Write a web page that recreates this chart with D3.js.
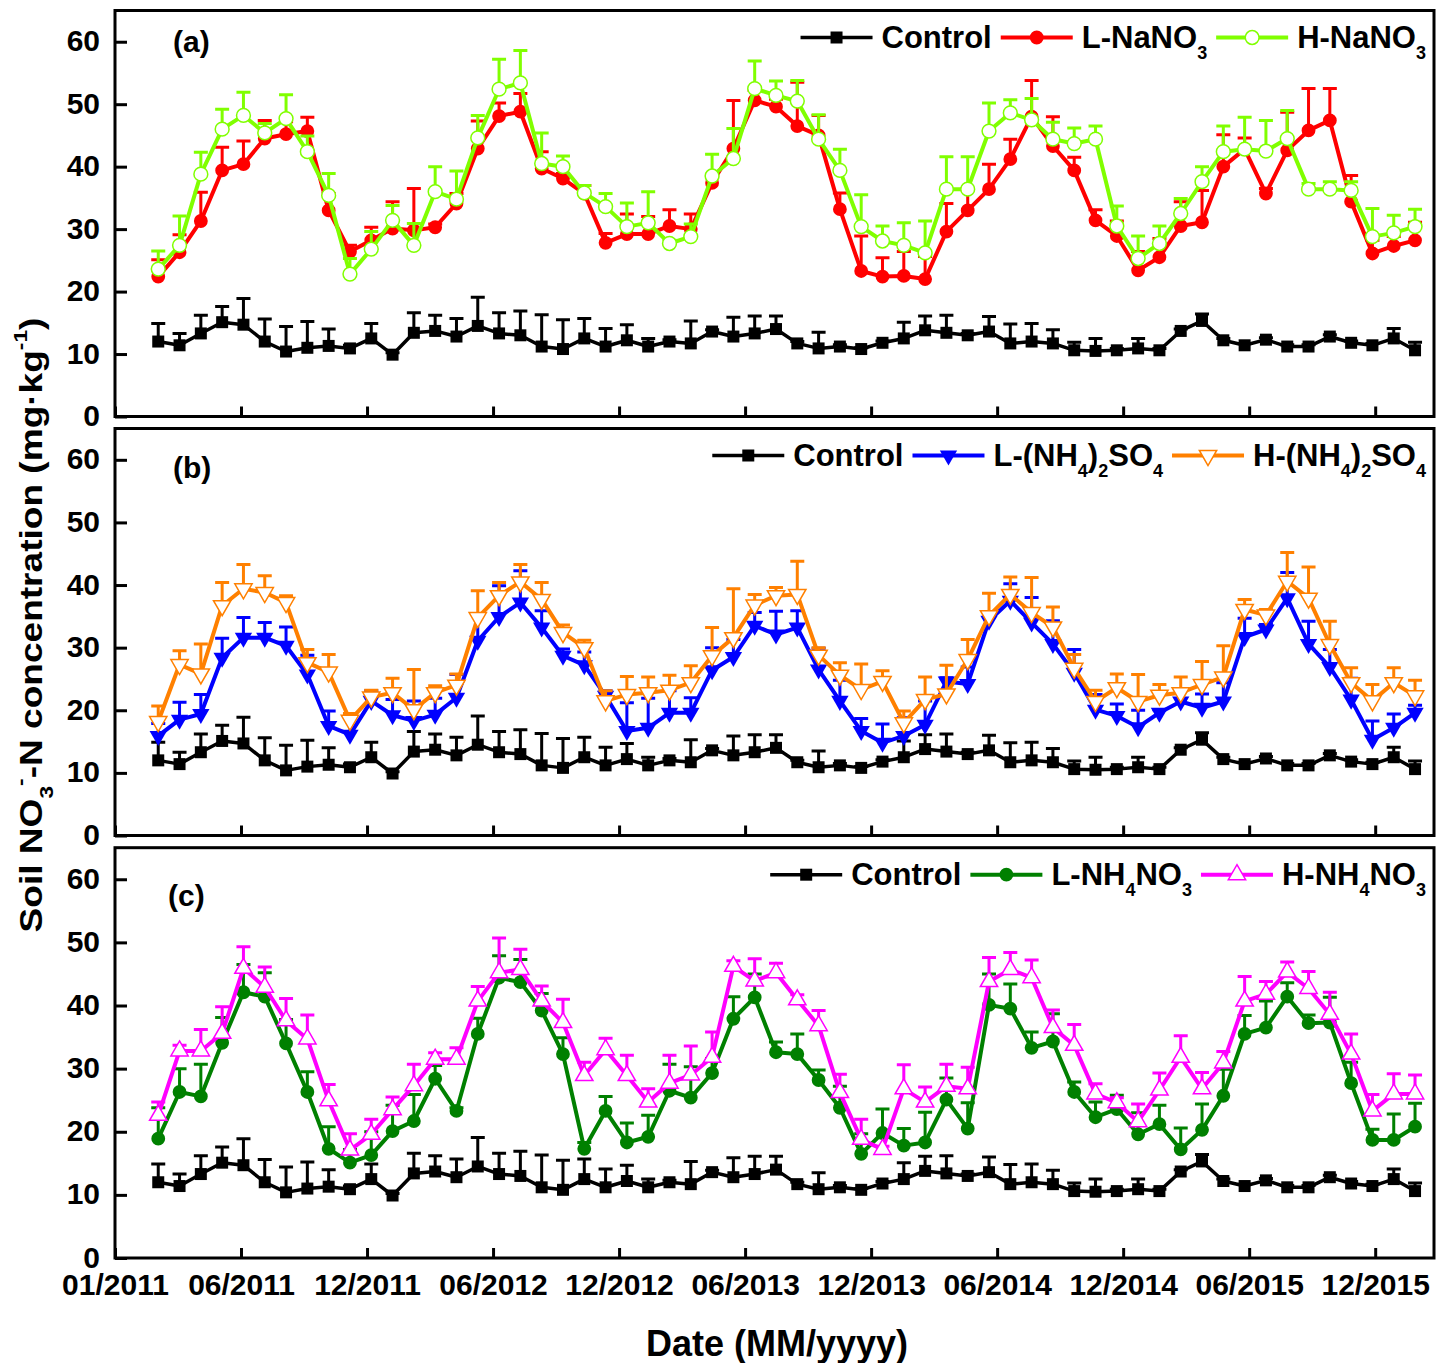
<!DOCTYPE html>
<html>
<head>
<meta charset="utf-8">
<script src="https://cdn.jsdelivr.net/npm/d3@7"></script>
<style>
  body { margin: 0; background: #fff; }
  text { font-family: "Liberation Sans", Arial, sans-serif; font-weight: bold; fill: #000; }
</style>
</head>
<body>
<svg id="chart" width="1448" height="1363"></svg>
<script>
// tick labels and y ticks
var tickLabels = ["01/2011","06/2011","12/2011","06/2012","12/2012","06/2013",
                  "12/2013","06/2014","12/2014","06/2015","12/2015"];
var yTicks = [0, 10, 20, 30, 40, 50, 60];

// monthly samples, Feb 2011 - Jan 2016
var control = [12.0,11.4,13.3,15.1,14.7,12.0,10.4,11.0,11.3,10.9,12.5,9.9,13.4,13.7,12.8,14.5,13.3,13.0,11.2,10.8,
  12.5,11.2,12.2,11.2,12.0,11.7,13.6,12.8,13.3,14.0,11.7,10.9,11.2,10.8,11.8,12.5,13.8,13.4,13.0,13.6,
  11.7,12.0,11.7,10.6,10.5,10.6,10.9,10.6,13.7,15.3,12.2,11.4,12.3,11.2,11.2,12.8,11.8,11.4,12.5,10.6];
var controlErr = [2.9,1.9,2.9,2.5,4.2,3.6,4.0,4.2,2.7,0.5,2.4,0.3,3.2,2.5,2.9,4.6,3.3,3.9,5.1,4.7,
  3.2,2.9,2.5,1.3,0.3,3.6,0.3,3.1,2.8,2.1,0.3,2.6,0.3,0.2,0.3,2.6,2.3,2.8,0.3,2.4,
  3.1,2.9,2.2,1.3,2.0,0.3,1.6,0.3,0.3,1.1,0.3,0.3,0.3,0.3,0.3,0.3,0.3,0.3,1.6,1.3];

var lNaNO3 = [22.4,26.3,31.3,39.4,40.4,44.5,45.2,45.7,33.0,26.4,28.2,30.1,29.8,30.3,34.1,42.9,48.1,48.8,39.7,
  38.1,35.7,27.8,29.2,29.2,30.5,30.0,37.4,42.9,50.6,49.6,46.5,45.0,33.2,23.3,22.4,22.5,22.0,29.6,33.0,36.4,
  41.2,48.0,43.3,39.4,31.4,28.9,23.4,25.5,30.5,31.1,40.0,42.8,35.7,42.6,45.8,47.4,34.4,26.1,27.3,28.2];
var lNaNO3Err = [2.7,2.8,4.6,3.7,3.7,2.9,2.0,2.2,2.7,1.0,2.1,4.3,6.7,0.5,1.6,4.4,2.1,2.9,2.7,
  0.8,1.3,1.5,3.2,2.8,2.6,2.4,1.0,7.7,1.6,1.2,7.0,3.2,2.6,5.6,3.0,3.9,3.6,4.5,3.5,4.0,
  3.2,5.8,4.7,2.1,1.7,2.4,3.0,3.0,3.9,5.1,5.1,1.8,0.8,6.1,6.7,5.1,4.2,2.1,1.5,2.9];
var hNaNO3 = [23.6,27.4,38.8,46.0,48.2,45.4,47.7,42.4,35.4,22.8,26.8,31.4,27.4,36.0,34.8,44.6,52.4,53.4,40.5,
  40.0,35.8,33.6,30.4,31.0,27.7,28.8,38.5,41.3,52.5,51.4,50.5,44.4,39.4,30.4,28.1,27.4,26.2,36.4,36.4,45.7,
  48.6,47.5,44.4,43.7,44.4,30.5,25.3,27.7,32.5,37.6,42.4,42.8,42.5,44.5,36.4,36.4,36.2,28.8,29.4,30.4];
var hNaNO3Err = [2.9,4.7,3.5,3.2,3.7,1.5,3.8,2.5,3.5,2.5,2.8,2.4,3.5,4.0,4.5,3.6,4.8,5.2,4.9,
  1.7,1.2,2.1,3.8,5.0,0.5,2.0,3.5,4.8,4.4,2.3,3.3,3.9,3.4,5.1,2.4,3.6,5.1,5.2,5.2,4.5,
  2.1,3.4,2.7,2.5,2.1,3.2,3.6,2.8,2.4,2.4,4.1,5.1,4.9,4.5,0.9,1.2,1.4,4.5,2.8,2.8];

var lAS = [15.9,18.5,19.4,28.4,31.6,31.6,30.3,25.7,17.5,16.1,21.5,19.2,18.3,19.3,22.0,31.1,34.9,37.2,33.2,
  28.7,27.2,22.3,16.7,17.2,19.6,19.6,26.4,28.5,33.5,32.1,33.2,26.5,21.5,16.7,14.8,15.9,17.7,24.6,24.2,34.3,
  37.5,34.0,30.6,26.0,20.1,19.1,17.3,19.6,21.4,20.4,21.4,31.7,32.9,37.9,30.6,26.9,21.7,15.3,17.2,19.6];
var lASErr = [2.0,2.8,3.1,3.1,3.2,2.4,3.0,3.1,2.4,2.8,1.6,2.5,3.2,2.6,3.7,4.2,5.0,5.1,2.7,
  1.1,2.1,0.8,4.5,4.7,3.5,2.4,3.6,2.8,2.1,3.7,2.7,3.4,3.3,2.0,3.0,2.9,3.8,0.6,2.7,0.6,
  2.7,4.0,3.7,3.7,2.4,1.9,2.7,0.5,2.0,2.2,3.0,3.0,0.8,4.1,3.6,2.8,3.4,3.0,2.2,1.2];
var hAS = [18.2,27.3,25.8,36.7,39.4,38.8,37.2,27.6,26.1,18.4,22.1,22.8,20.1,22.8,24.0,34.8,38.3,40.5,37.7,
  32.4,30.0,21.5,22.5,22.8,23.2,24.4,28.7,31.6,36.8,38.3,38.5,28.8,25.6,23.3,24.6,18.0,21.7,22.6,28.1,35.1,
  38.5,35.6,33.3,26.7,21.4,23.6,21.4,22.4,22.8,24.1,25.3,36.1,35.2,40.6,37.9,30.5,24.4,21.5,24.4,22.3];
var hASErr = [2.5,2.2,4.8,3.7,3.9,2.7,1.1,2.1,2.8,1.1,1.1,2.3,6.4,1.1,1.8,4.3,2.1,2.8,2.7,
  1.2,1.2,1.6,2.9,2.5,2.4,2.7,4.5,7.8,1.7,1.3,5.3,1.2,2.0,4.1,1.7,1.9,3.6,4.6,3.2,3.6,
  2.8,5.6,3.2,2.2,1.8,2.2,4.3,1.7,2.5,3.7,5.0,1.6,0.9,4.6,5.0,3.7,2.4,2.6,2.4,2.5];

var lAN = [18.9,26.3,25.6,34.1,42.1,41.4,34.0,26.3,17.3,15.1,16.3,20.1,21.7,28.4,23.3,35.5,44.4,43.7,39.2,
  32.3,17.3,23.3,18.3,19.2,26.5,25.4,29.3,37.9,41.3,32.6,32.3,28.2,23.8,16.5,19.8,17.8,18.3,25.1,20.5,40.1,
  39.5,33.3,34.3,26.3,22.3,23.6,19.6,21.2,17.2,20.3,25.7,35.5,36.5,41.4,37.2,37.3,27.7,18.7,18.7,20.8];
var lANErr = [4.9,3.7,5.1,4.0,4.4,3.8,3.8,3.2,3.5,2.1,3.7,4.1,4.2,2.1,0.5,2.5,3.5,3.6,2.7,
  2.6,1.0,2.3,3.1,3.4,4.2,4.9,2.3,3.5,3.7,1.6,3.2,1.6,3.4,3.2,3.8,2.7,4.8,3.4,4.1,4.9,
  3.9,2.5,4.4,1.6,2.4,2.2,3.4,3.0,3.4,4.1,4.2,2.9,4.2,2.2,1.3,4.0,3.3,1.7,4.1,3.7];
var hAN = [22.6,32.8,32.8,35.6,45.9,42.9,37.6,34.7,24.9,17.1,19.6,23.5,27.3,31.5,31.5,40.7,45.2,45.7,40.7,
  37.3,28.9,33.0,28.9,24.7,27.7,29.0,31.8,46.2,43.9,45.2,40.9,36.8,26.2,18.8,17.2,26.8,24.7,27.2,26.8,43.8,
  45.7,44.4,36.5,33.7,26.0,24.6,21.6,26.6,31.8,26.8,30.9,40.7,41.8,45.3,42.7,38.6,32.3,23.3,26.0,26.0];
var hANErr = [2.1,0.9,3.4,4.2,3.4,3.2,3.5,3.8,2.6,2.6,2.4,2.0,3.4,1.0,1.8,2.3,5.5,3.2,2.4,
  3.7,2.1,1.8,3.2,2.1,4.4,4.6,4.0,0.9,3.5,1.5,0.8,2.4,2.9,3.2,0.5,3.8,2.4,3.5,3.4,3.8,
  2.7,2.8,2.8,3.3,1.6,0.8,2.8,2.7,3.4,2.6,1.8,3.9,2.0,1.6,2.7,3.5,3.2,2.6,3.2,3.0];

var controlSeries = {name: [["Control"]], values: control, err: controlErr, color: "#000000", shape: "square", open: false, width: 3.5};

var panels = [
  {label: "(a)", top: 10.5, bottom: 416.5, labelY: 52, series: [
    controlSeries,
    {name: [["L-NaNO"],["3","sub"]], values: lNaNO3, err: lNaNO3Err, color: "#ff0000", shape: "circle", open: false, width: 4},
    {name: [["H-NaNO"],["3","sub"]], values: hNaNO3, err: hNaNO3Err, color: "#80ff00", shape: "circle", open: true, width: 4}
  ]},
  {label: "(b)", top: 428.5, bottom: 835.5, labelY: 478, series: [
    controlSeries,
    {name: [["L-(NH"],["4","sub"],[")"],["2","sub"],["SO"],["4","sub"]], values: lAS, err: lASErr, color: "#0000ff", shape: "down", open: false, width: 4},
    {name: [["H-(NH"],["4","sub"],[")"],["2","sub"],["SO"],["4","sub"]], values: hAS, err: hASErr, color: "#ff8000", shape: "down", open: true, width: 4}
  ]},
  {label: "(c)", top: 847.7, bottom: 1258, labelY: 906, series: [
    controlSeries,
    {name: [["L-NH"],["4","sub"],["NO"],["3","sub"]], values: lAN, err: lANErr, color: "#008000", shape: "circle", open: false, width: 4},
    {name: [["H-NH"],["4","sub"],["NO"],["3","sub"]], values: hAN, err: hANErr, color: "#ff00ff", shape: "up", open: true, width: 4}
  ]}
];

var left = 115, right = 1434;
var svg = d3.select("#chart");

// axis ticks every 6 months, samples sit on their own index scale
var xTick = d3.scaleLinear().domain([0, 62.8]).range([left, right]);
var x = d3.scaleLinear().domain([-2.03, 59.89]).range([left, right]);

function symbolFor(shape) {
  if (shape === "square") return d3.symbol().type(d3.symbolSquare).size(144)();
  if (shape === "circle") return d3.symbol().type(d3.symbolCircle).size(150)();
  return d3.symbol().type(d3.symbolTriangle).size(130)();
}
function markerTransform(shape, px, py) {
  return "translate(" + px + "," + py + ")" + (shape === "down" ? " rotate(180)" : "");
}

// text with sub / superscript pieces
function richText(sel, parts, small) {
  var cur = 0;
  parts.forEach(function(p) {
    var shift = p[1] === "sub" ? Math.round(small * 0.6) : p[1] === "sup" ? -Math.round(small * 0.8) : 0;
    var t = sel.append("tspan").attr("dy", shift - cur).text(p[0]);
    if (p[1]) t.attr("font-size", small);
    cur = shift;
  });
}

panels.forEach(function(p, pi) {
  var y = d3.scaleLinear().domain([0, 65]).range([p.bottom, p.top]);
  var g = svg.append("g");
  var isLast = pi === panels.length - 1;

  // y axis, ticks inside
  var ya = g.append("g").attr("transform", "translate(" + left + ",0)")
    .call(d3.axisLeft(y).tickValues(yTicks).tickSize(-12).tickPadding(15));
  ya.select(".domain").remove();
  ya.selectAll("line").attr("stroke", "#000").attr("stroke-width", 3);
  ya.selectAll("text").attr("font-size", 30).attr("font-family", null).attr("dy", "0.3em");

  // x axis, ticks inside
  var xa = g.append("g").attr("transform", "translate(0," + p.bottom + ")")
    .call(d3.axisBottom(xTick).tickValues(d3.range(0, 61, 6)).tickSize(-10).tickPadding(16)
      .tickFormat(function(d, i) { return isLast ? tickLabels[i] : ""; }));
  xa.select(".domain").remove();
  xa.selectAll("line").attr("stroke", "#000").attr("stroke-width", 3);
  xa.selectAll("text").attr("font-size", 30).attr("font-family", null);

  // series
  var line = d3.line().x(function(d, i) { return x(i); }).y(function(d) { return y(d); });
  p.series.forEach(function(s) {
    var sg = g.append("g");
    sg.selectAll("path.err").data(s.values).enter().append("path")
      .attr("class", "err")
      .attr("d", function(v, i) {
        var px = x(i), y0 = y(v), y1 = y(v + s.err[i]);
        return "M" + px + "," + y0 + "V" + y1 + "M" + (px - 7) + "," + y1 + "H" + (px + 7);
      })
      .attr("fill", "none").attr("stroke", s.color).attr("stroke-width", 3);
    sg.append("path").datum(s.values).attr("d", line)
      .attr("fill", "none").attr("stroke", s.color).attr("stroke-width", s.width)
      .attr("stroke-linejoin", "round");
    sg.selectAll("path.mk").data(s.values).enter().append("path")
      .attr("class", "mk")
      .attr("d", symbolFor(s.shape))
      .attr("transform", function(v, i) { return markerTransform(s.shape, x(i), y(v)); })
      .attr("fill", s.open ? "#fff" : s.color)
      .attr("stroke", s.color).attr("stroke-width", s.open ? 1.5 : 0);
  });

  // frame
  g.append("rect").attr("x", left).attr("y", p.top)
    .attr("width", right - left).attr("height", p.bottom - p.top)
    .attr("fill", "none").attr("stroke", "#000").attr("stroke-width", 3);

  // panel label
  g.append("text").attr("x", p.label === "(c)" ? 168 : 173).attr("y", p.labelY)
    .attr("font-size", 30).text(p.label);

  // legend, laid out right to left
  var textEnd = 1426, lineY = p.top + 27, textY = p.top + 37;
  p.series.slice().reverse().forEach(function(s) {
    var t = g.append("text").attr("x", textEnd).attr("y", textY)
      .attr("font-size", 31).attr("text-anchor", "end");
    richText(t, s.name, 18);
    var start = textEnd - t.node().getComputedTextLength();
    var x1 = start - 9, x0 = x1 - 72;
    g.append("line").attr("x1", x0).attr("x2", x1).attr("y1", lineY).attr("y2", lineY)
      .attr("stroke", s.color).attr("stroke-width", s.width);
    g.append("path").attr("d", symbolFor(s.shape))
      .attr("transform", markerTransform(s.shape, (x0 + x1) / 2, lineY))
      .attr("fill", s.open ? "#fff" : s.color)
      .attr("stroke", s.color).attr("stroke-width", s.open ? 1.5 : 0);
    textEnd = x0 - 9;
  });
});

// axis titles
svg.append("text").attr("x", 777).attr("y", 1356).attr("text-anchor", "middle")
  .attr("font-size", 36).text("Date (MM/yyyy)");

var yTitle = svg.append("text").attr("text-anchor", "middle").attr("font-size", 31);
richText(yTitle, [["Soil NO"],["3","sub"],["-","sup"],["-N concentration (mg\u00b7kg"],["-1","sup"],[")"]], 19);
var titleLen = yTitle.node().getComputedTextLength();
yTitle.attr("transform", "translate(42,625) rotate(-90) scale(" + (615 / titleLen) + ",1)");
</script>
</body>
</html>
